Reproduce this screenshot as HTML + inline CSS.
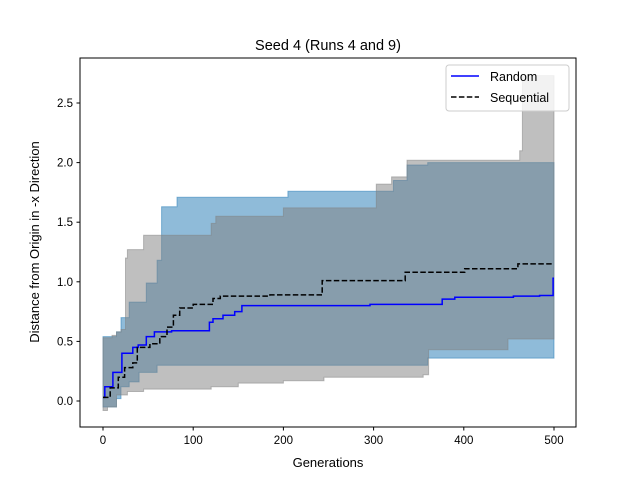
<!DOCTYPE html>
<html><head><meta charset="utf-8"><style>
body{margin:0;background:#fff}
svg{display:block;font-family:"Liberation Sans","DejaVu Sans",sans-serif}
</style></head><body>
<svg id="chart" width="640" height="480" viewBox="0 0 640 480" xmlns="http://www.w3.org/2000/svg">
<rect width="640" height="480" fill="#fff"/>
<text x="328" y="50" text-anchor="middle" font-size="14.5">Seed 4 (Runs 4 and 9)</text>
<g id="plot"></g>
<text x="328" y="467" text-anchor="middle" font-size="13">Generations</text>
<text transform="translate(39,242) rotate(-90)" text-anchor="middle" font-size="13">Distance from Origin in -x Direction</text>
<g>
<rect x="446" y="65" width="123" height="46" rx="3" fill="#fff" fill-opacity="0.8" stroke="#ccc"/>
<line x1="451" y1="76" x2="479" y2="76" stroke="#0000ff" stroke-width="1.5"/>
<text x="490" y="81" font-size="12.5">Random</text>
<line x1="451" y1="97" x2="479" y2="97" stroke="#000" stroke-width="1.5" stroke-dasharray="5.5,2.4"/>
<text x="490" y="102" font-size="12.5">Sequential</text>
</g>
</svg>
<script>
const xTicks=[0,100,200,300,400,500];
const yTicks=[0.0,0.5,1.0,1.5,2.0,2.5];
const yTickLabels=["0.0","0.5","1.0","1.5","2.0","2.5"];
const randGen=[0,2,11,21,33,39,48,57,76,118,122,133,146,154,200,296,376,390,455,484,499,500];
const randMean=[0.03,0.12,0.24,0.40,0.45,0.47,0.54,0.58,0.59,0.66,0.69,0.72,0.75,0.80,0.80,0.81,0.855,0.87,0.88,0.885,1.03,1.03];
const seqGen=[0,8,17,24,33,38,52,63,71,78,85,100,122,130,185,243,335,401,460,500];
const seqMean=[0.03,0.11,0.20,0.28,0.32,0.45,0.48,0.54,0.62,0.72,0.78,0.81,0.86,0.88,0.89,1.01,1.08,1.11,1.15,1.15];
const randBandGen=[0,15,20,29,40,48,60,65,82,205,303,322,337,360,500];
const randUpper=[0.54,0.58,0.70,0.83,0.83,0.99,1.18,1.63,1.71,1.76,1.76,1.85,1.98,2.0,2.0];
const randLower=[-0.05,0.02,0.12,0.16,0.24,0.24,0.30,0.30,0.30,0.30,0.30,0.30,0.30,0.36,0.40];
const seqBandGen=[0,5,10,15,20,25,27,30,45,65,120,125,150,200,245,303,320,337,355,361,449,462,465,500];
const seqUpper=[0.53,0.53,0.55,0.58,0.60,1.20,1.27,1.27,1.39,1.39,1.49,1.55,1.55,1.62,1.62,1.82,1.88,2.02,2.02,2.02,2.02,2.10,2.73,2.73];
const seqLower=[-0.08,-0.05,-0.05,0.05,0.05,0.05,0.08,0.08,0.10,0.10,0.12,0.12,0.15,0.17,0.20,0.20,0.20,0.20,0.22,0.43,0.52,0.52,0.52,0.52];

const L=80,R=576,T=58,B=427;
const X=g=>103+g*0.902;
const Y=v=>401-v*119.2;
const NS="http://www.w3.org/2000/svg";
const plot=document.getElementById('plot');
function mk(tag,attrs){const e=document.createElementNS(NS,tag);for(const k in attrs)e.setAttribute(k,attrs[k]);plot.appendChild(e);return e;}
function stepPts(xs,ys){let p=[];for(let i=0;i<xs.length;i++){if(i>0)p.push([X(xs[i]),Y(ys[i-1])]);p.push([X(xs[i]),Y(ys[i])]);}return p;}
function band(xs,up,lo,color,name){
  const a=stepPts(xs,up),b=stepPts(xs,lo).reverse();
  const d='M'+a.concat(b).map(p=>p[0].toFixed(1)+','+p[1].toFixed(1)).join('L')+'Z';
  const e=mk('path',{d:d,fill:color,'fill-opacity':0.5,stroke:color,'stroke-opacity':0.5,'stroke-width':1});
  
  
}
function line(xs,ys,color,dash,name){
  const d='M'+stepPts(xs,ys).map(p=>p[0].toFixed(1)+','+p[1].toFixed(1)).join('L');
  const e=mk('path',{d:d,fill:'none',stroke:color,'stroke-width':1.5});
  if(dash)e.setAttribute('stroke-dasharray','5.5,2.4');
  
  
}
band(randBandGen,randUpper,randLower,'#1f77b4','random-band');
band(seqBandGen,seqUpper,seqLower,'#808080','sequential-band');
line(randGen,randMean,'#0000ff',false,'random-line');
line(seqGen,seqMean,'#000000',true,'sequential-line');
const fr=mk('rect',{x:L,y:T,width:R-L,height:B-T,fill:'none',stroke:'#000','stroke-width':1});


xTicks.forEach(t=>{
  const tk=mk('line',{x1:X(t),x2:X(t),y1:B,y2:B+3.5,stroke:'#000'});
  
  
  const tx=mk('text',{x:X(t),y:B+17,'text-anchor':'middle','font-size':11.5});
  tx.textContent=t;
  
  
});
yTicks.forEach((t,i)=>{
  const tk=mk('line',{x1:L-3.5,x2:L,y1:Y(t),y2:Y(t),stroke:'#000'});
  
  
  const tx=mk('text',{x:L-7,y:Y(t)+4,'text-anchor':'end','font-size':11.5});
  tx.textContent=yTickLabels[i];
  
  
});
</script>
</body></html>
